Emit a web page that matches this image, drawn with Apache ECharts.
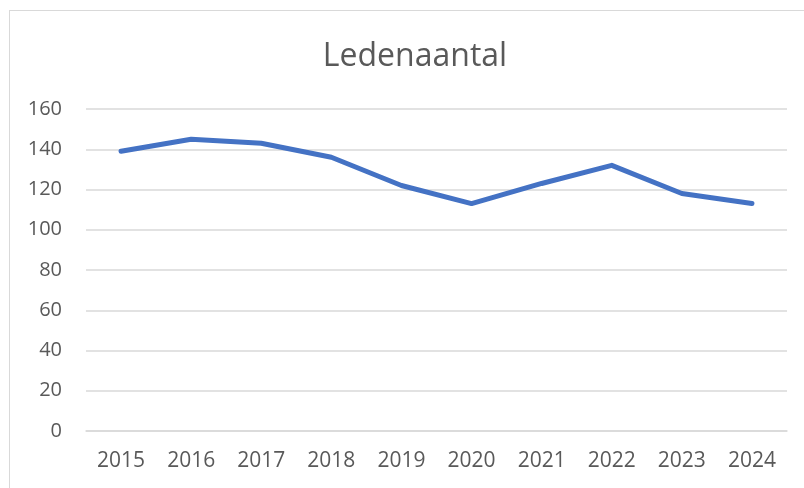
<!DOCTYPE html>
<html>
<head>
<meta charset="utf-8">
<script src="https://cdn.jsdelivr.net/npm/echarts@6/dist/echarts.min.js"></script>
<style>
html,body{margin:0;padding:0;background:#fff;}
#frame{position:absolute;left:9px;top:10px;width:900px;height:600px;border:1.5px solid #d9d9d9;box-sizing:border-box;}
#chart{position:absolute;left:0;top:0;width:804px;height:488px;}
</style>
</head>
<body>
<div id="frame"></div>
<div id="chart"></div>
<script>
const titleText = 'Ledenaantal';
const categories = ['2015','2016','2017','2018','2019','2020','2021','2022','2023','2024'];
const members = [139, 145, 143, 136, 122, 113, 123, 132, 118, 113];
const yTicks = {min: 0, max: 160, interval: 20};

const chart = echarts.init(document.getElementById('chart'), null, {renderer: 'canvas'});
chart.setOption({
  animation: false,
  backgroundColor: 'transparent',
  title: {
    text: titleText,
    left: 410,
    top: 36,
    textAlign: 'center',
    textStyle: {fontFamily: 'Open Sans', fontSize: 32, fontWeight: 'normal', color: '#595959'}
  },
  grid: {left: 86, right: 17, top: 109, bottom: 57, containLabel: false},
  xAxis: {
    type: 'category',
    data: categories,
    boundaryGap: true,
    axisLine: {show: true, lineStyle: {color: '#d9d9d9', width: 1.5}},
    axisTick: {show: false},
    axisLabel: {fontFamily: 'Open Sans', fontSize: 21, color: '#595959', margin: 20}
  },
  yAxis: {
    type: 'value',
    min: yTicks.min,
    max: yTicks.max,
    interval: yTicks.interval,
    axisLine: {show: false},
    axisTick: {show: false},
    splitLine: {lineStyle: {color: '#d9d9d9', width: 1.5}},
    axisLabel: {fontFamily: 'Open Sans', fontSize: 20, color: '#595959', margin: 24}
  },
  series: [{
    type: 'line',
    data: members,
    showSymbol: false,
    symbol: 'none',
    lineStyle: {color: '#4472C4', width: 5, cap: 'round', join: 'round'},
    itemStyle: {color: '#4472C4'}
  }]
});
</script>
</body>
</html>
